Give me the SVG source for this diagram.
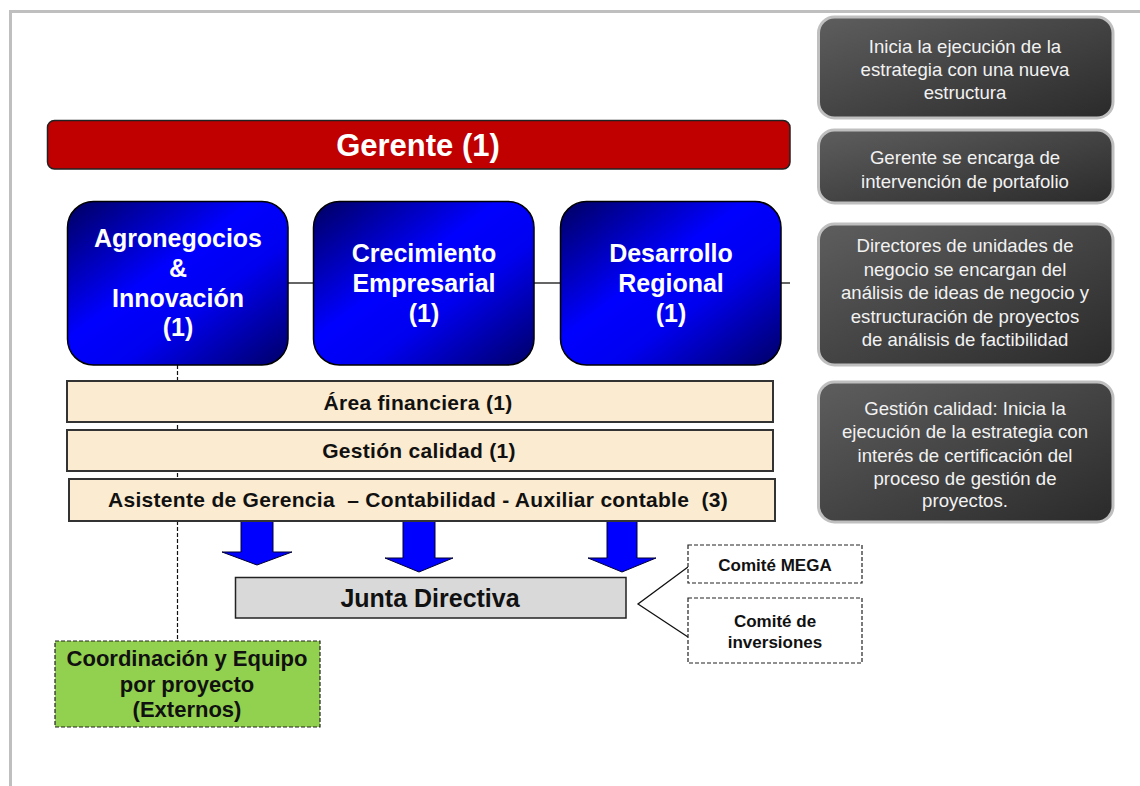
<svg xmlns="http://www.w3.org/2000/svg" width="1140" height="786" viewBox="0 0 1140 786">
  <defs>
    <linearGradient id="unitFill" x1="0" y1="0" x2="1" y2="1">
      <stop offset="0" stop-color="#000060"/>
      <stop offset="0.42" stop-color="#0000ff"/>
      <stop offset="0.62" stop-color="#0000f0"/>
      <stop offset="1" stop-color="#000066"/>
    </linearGradient>
    <linearGradient id="noteFill" x1="0" y1="0" x2="1" y2="1">
      <stop offset="0" stop-color="#5e5e5e"/>
      <stop offset="1" stop-color="#2a2a2a"/>
    </linearGradient>
  </defs>
  <style>
    .frame { fill: none; stroke: #bfbfbf; stroke-width: 3; }
    .unit { fill: url(#unitFill); stroke: #000; stroke-width: 1.5; }
    .unitText { font-family: "Liberation Sans", Arial, sans-serif; font-weight: bold; font-size: 25px; fill: #fff; text-anchor: middle; }
    .band { fill: #fbebd0; stroke: #333; stroke-width: 2; }
    .bandText { font-family: "Liberation Sans", Arial, sans-serif; font-weight: bold; font-size: 21px; letter-spacing: 0.3px; fill: #111; text-anchor: middle; }
    .note { fill: url(#noteFill); stroke: #bfbfbf; stroke-width: 3; }
    .noteText { font-family: "Liberation Sans", Arial, sans-serif; font-size: 18.6px; fill: #f2f2f2; text-anchor: middle; }
    .dash { fill: none; stroke: #111; stroke-width: 1.2; stroke-dasharray: 4 2; }
    .link { fill: none; stroke: #111; stroke-width: 1.3; }
    .arrow { fill: #0000ff; stroke: #000033; stroke-width: 1; }
    .comite { fill: #fff; stroke: #222; stroke-width: 1.2; stroke-dasharray: 4 2; }
    .comiteText { font-family: "Liberation Sans", Arial, sans-serif; font-weight: bold; font-size: 17px; fill: #111; text-anchor: middle; }
  </style>

  <!-- page frame -->
  <path class="frame" d="M1140 11.5 H10.5 V786"/>

  <!-- connectors -->
  <g id="connectors">
    <line class="link" x1="288" y1="283" x2="313" y2="283"/>
    <line class="link" x1="534" y1="283" x2="560" y2="283"/>
    <line class="link" x1="781" y1="283" x2="790" y2="283"/>
    <line class="dash" x1="177.5" y1="365" x2="177.5" y2="641"/>
    <polyline class="link" points="688,567 638,604 688,637"/>
    <polygon class="arrow" points="241,521 273,521 273,552 292,552 257,565 222,552 241,552"/>
    <polygon class="arrow" points="403,521 435,521 435,558 453,558 419,572 385,558 403,558"/>
    <polygon class="arrow" points="607,521 637,521 637,558 656,558 622,572 588,558 607,558"/>
  </g>

  <!-- general manager -->
  <g id="gerente">
    <rect x="47.5" y="120.5" width="742.5" height="48.5" rx="7" fill="#c00000" stroke="#222" stroke-width="1.5"/>
    <text x="418" y="156" font-family="Liberation Sans, Arial, sans-serif" font-weight="bold" font-size="31" fill="#fff" text-anchor="middle">Gerente (1)</text>
  </g>

  <!-- business units -->
  <g id="agronegocios">
    <rect class="unit" x="67.5" y="201.5" width="220.5" height="163.5" rx="26"/>
    <text class="unitText" x="178" y="247">Agronegocios</text>
    <text class="unitText" x="178" y="277">&amp;</text>
    <text class="unitText" x="178" y="307">Innovación</text>
    <text class="unitText" x="178" y="336">(1)</text>
  </g>
  <g id="crecimiento">
    <rect class="unit" x="313.5" y="201.5" width="220.5" height="163.5" rx="26"/>
    <text class="unitText" x="424" y="262">Crecimiento</text>
    <text class="unitText" x="424" y="292">Empresarial</text>
    <text class="unitText" x="424" y="322">(1)</text>
  </g>
  <g id="desarrollo">
    <rect class="unit" x="560.5" y="201.5" width="220.5" height="163.5" rx="26"/>
    <text class="unitText" x="671" y="262">Desarrollo</text>
    <text class="unitText" x="671" y="292">Regional</text>
    <text class="unitText" x="671" y="322">(1)</text>
  </g>

  <!-- support areas -->
  <g id="area-financiera">
    <rect class="band" x="67" y="381" width="706" height="41"/>
    <text class="bandText" x="418" y="410">Área financiera (1)</text>
  </g>
  <g id="gestion-calidad">
    <rect class="band" x="67" y="430" width="706" height="41"/>
    <text class="bandText" x="419" y="458">Gestión calidad (1)</text>
  </g>
  <g id="asistente">
    <rect class="band" x="69" y="479" width="706" height="42"/>
    <text class="bandText" x="418" y="507" xml:space="preserve">Asistente de Gerencia  – Contabilidad - Auxiliar contable  (3)</text>
  </g>

  <!-- board -->
  <g id="junta">
    <rect x="235.5" y="577.5" width="390.5" height="40.5" fill="#d9d9d9" stroke="#222" stroke-width="1.5"/>
    <text x="430" y="607" font-family="Liberation Sans, Arial, sans-serif" font-weight="bold" font-size="25" fill="#111" text-anchor="middle">Junta Directiva</text>
  </g>
  <g id="comite-mega">
    <rect class="comite" x="688" y="545" width="174" height="38"/>
    <text class="comiteText" x="775" y="571">Comité MEGA</text>
  </g>
  <g id="comite-inversiones">
    <rect class="comite" x="688" y="598" width="174" height="65"/>
    <text class="comiteText" x="775" y="627">Comité de</text>
    <text class="comiteText" x="775" y="648">inversiones</text>
  </g>

  <!-- external project team -->
  <g id="coordinacion">
    <rect x="55" y="641" width="265" height="86" fill="#92d050" stroke="#222" stroke-width="1.2" stroke-dasharray="4 2"/>
    <g font-family="Liberation Sans, Arial, sans-serif" font-weight="bold" font-size="22" fill="#111" text-anchor="middle">
      <text x="187" y="666">Coordinación y Equipo</text>
      <text x="187" y="692">por proyecto</text>
      <text x="187" y="717">(Externos)</text>
    </g>
  </g>

  <!-- side notes -->
  <g id="nota-estrategia">
    <rect class="note" x="818.5" y="17" width="294.5" height="101" rx="16"/>
    <text class="noteText" x="965" y="53">Inicia la ejecución de la</text>
    <text class="noteText" x="965" y="76">estrategia con una nueva</text>
    <text class="noteText" x="965" y="99">estructura</text>
  </g>
  <g id="nota-gerente">
    <rect class="note" x="818.5" y="130" width="294.5" height="73" rx="16"/>
    <text class="noteText" x="965" y="164">Gerente se encarga de</text>
    <text class="noteText" x="965" y="188">intervención de portafolio</text>
  </g>
  <g id="nota-directores">
    <rect class="note" x="818.5" y="224" width="294.5" height="141" rx="16"/>
    <text class="noteText" x="965" y="252">Directores de unidades de</text>
    <text class="noteText" x="965" y="276">negocio se encargan del</text>
    <text class="noteText" x="965" y="299">análisis de ideas de negocio y</text>
    <text class="noteText" x="965" y="323">estructuración de proyectos</text>
    <text class="noteText" x="965" y="346">de análisis de factibilidad</text>
  </g>
  <g id="nota-calidad">
    <rect class="note" x="818.5" y="382" width="294.5" height="140" rx="16"/>
    <text class="noteText" x="965" y="415">Gestión calidad: Inicia la</text>
    <text class="noteText" x="965" y="438">ejecución de la estrategia con</text>
    <text class="noteText" x="965" y="462">interés de certificación del</text>
    <text class="noteText" x="965" y="485">proceso de gestión de</text>
    <text class="noteText" x="965" y="507">proyectos.</text>
  </g>
</svg>
